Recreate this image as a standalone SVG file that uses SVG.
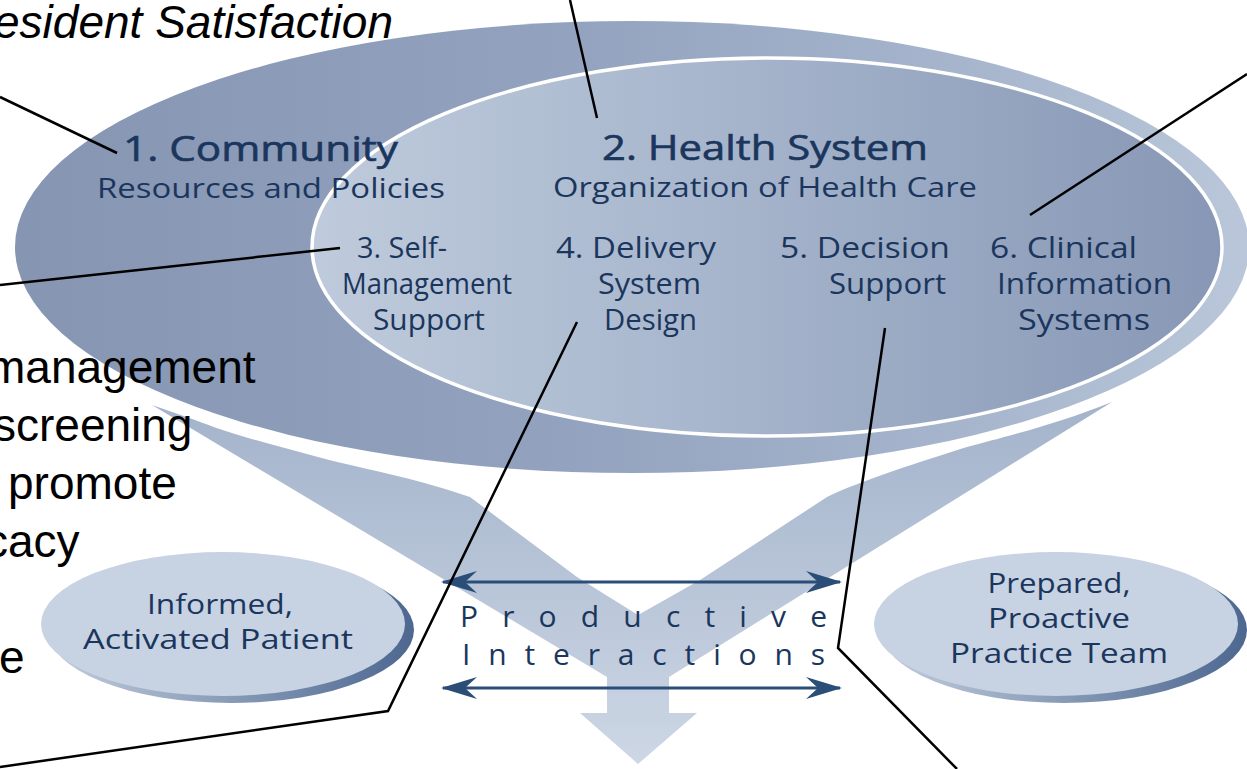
<svg xmlns="http://www.w3.org/2000/svg" width="1247" height="769" viewBox="0 0 1247 769">
  <defs>
    <style>
      .lbl { font-family: "Open Sans", "Noto Sans", "DejaVu Sans", sans-serif; fill: #1b365d; }
      .hd { stroke: #1b365d; stroke-width: 0.6; }
      .slide { font-family: "Liberation Sans", Arial, sans-serif; fill: #000; font-size: 46px; }
      .call { stroke: #000; stroke-width: 2.5; fill: none; stroke-linejoin: miter; }
      .pi { stroke: #2b4e78; stroke-width: 3; fill: none; marker-start: url(#barb); marker-end: url(#barb); }
      .oval { fill: #c7d2e2; }
    </style>
    <linearGradient id="gOuter" x1="0" y1="0" x2="1" y2="0">
      <stop offset="0" stop-color="#8595b2"/>
      <stop offset="0.45" stop-color="#93a3bf"/>
      <stop offset="0.78" stop-color="#a7b6cd"/>
      <stop offset="1" stop-color="#bac7da"/>
    </linearGradient>
    <linearGradient id="gInner" x1="0" y1="0" x2="1" y2="0">
      <stop offset="0" stop-color="#bfcbdc"/>
      <stop offset="0.4" stop-color="#a9b8ce"/>
      <stop offset="1" stop-color="#8797b5"/>
    </linearGradient>
    <linearGradient id="gFunnel" gradientUnits="userSpaceOnUse" x1="0" y1="400" x2="0" y2="765">
      <stop offset="0" stop-color="#a3b3cb"/>
      <stop offset="1" stop-color="#cdd7e5"/>
    </linearGradient>
    <linearGradient id="gShadow" x1="0" y1="0" x2="1" y2="0">
      <stop offset="0" stop-color="#c3cede"/>
      <stop offset="0.55" stop-color="#8195b3"/>
      <stop offset="1" stop-color="#4d6790"/>
    </linearGradient>
    <marker id="barb" viewBox="-36 -12 36 24" refX="-2" refY="0" markerWidth="36" markerHeight="24" markerUnits="userSpaceOnUse" orient="auto-start-reverse">
      <path d="M0,0 L-36,-11 L-24,0 L-36,11 Z" fill="#2b4e78"/>
    </marker>
  </defs>

  <!-- converging arms and downward arrow -->
  <g id="funnel">
    <path fill="url(#gFunnel)" d="M152,405 L607,677 L607,713 L580,713 L638,764 L697,713 L669,713 L669,677 L1112,402 C1060,423 1005,437 967,447 C920,462 862,480 827,497 L700,580 L638,615 L577,577 L470,497 C420,480 380,472 333,461 C280,447 230,434 195,420 Z"/>
  </g>

  <!-- 1. Community (outer field) -->
  <g id="community">
    <ellipse cx="632" cy="247" rx="617" ry="226" fill="url(#gOuter)"/>
  </g>

  <!-- 2. Health System (inner field) -->
  <g id="health-system">
    <ellipse cx="767" cy="247" rx="455" ry="189" fill="url(#gInner)" stroke="#ffffff" stroke-width="3.5"/>
    <text class="lbl hd" x="602" y="160" font-size="34" textLength="326" lengthAdjust="spacingAndGlyphs">2. Health System</text>
    <text class="lbl" x="553" y="197" font-size="28" textLength="424" lengthAdjust="spacingAndGlyphs">Organization of Health Care</text>
  </g>

  <g id="community-label">
    <text class="lbl hd" x="123" y="161" font-size="34" textLength="275" lengthAdjust="spacingAndGlyphs">1. Community</text>
    <text class="lbl" x="97" y="198" font-size="28" textLength="348" lengthAdjust="spacingAndGlyphs">Resources and Policies</text>
  </g>

  <g id="self-management">
    <text class="lbl" x="357" y="258" font-size="29" textLength="90" lengthAdjust="spacingAndGlyphs">3. Self-</text>
    <text class="lbl" x="342" y="294" font-size="29" textLength="170" lengthAdjust="spacingAndGlyphs">Management</text>
    <text class="lbl" x="373" y="330" font-size="29" textLength="112" lengthAdjust="spacingAndGlyphs">Support</text>
  </g>

  <g id="delivery-system">
    <text class="lbl" x="556" y="258" font-size="29" textLength="160" lengthAdjust="spacingAndGlyphs">4. Delivery</text>
    <text class="lbl" x="598" y="294" font-size="29" textLength="103" lengthAdjust="spacingAndGlyphs">System</text>
    <text class="lbl" x="604" y="330" font-size="29" textLength="93" lengthAdjust="spacingAndGlyphs">Design</text>
  </g>

  <g id="decision-support">
    <text class="lbl" x="780" y="258" font-size="29" textLength="170" lengthAdjust="spacingAndGlyphs">5. Decision</text>
    <text class="lbl" x="829" y="294" font-size="29" textLength="117" lengthAdjust="spacingAndGlyphs">Support</text>
  </g>

  <g id="clinical-info">
    <text class="lbl" x="990" y="258" font-size="29" textLength="147" lengthAdjust="spacingAndGlyphs">6. Clinical</text>
    <text class="lbl" x="997" y="294" font-size="29" textLength="175" lengthAdjust="spacingAndGlyphs">Information</text>
    <text class="lbl" x="1018" y="330" font-size="29" textLength="132" lengthAdjust="spacingAndGlyphs">Systems</text>
  </g>

  <!-- Informed, Activated Patient -->
  <g id="patient">
    <ellipse cx="231" cy="630" rx="183" ry="73" fill="url(#gShadow)"/>
    <ellipse class="oval" cx="223" cy="624" rx="182" ry="72"/>
    <text class="lbl" x="220" y="614" font-size="28" text-anchor="middle" textLength="146" lengthAdjust="spacingAndGlyphs">Informed,</text>
    <text class="lbl" x="218" y="649" font-size="28" text-anchor="middle" textLength="270" lengthAdjust="spacingAndGlyphs">Activated Patient</text>
  </g>

  <!-- Prepared, Proactive Practice Team -->
  <g id="practice-team">
    <ellipse cx="1064" cy="630" rx="183" ry="73" fill="url(#gShadow)"/>
    <ellipse class="oval" cx="1056" cy="624" rx="182" ry="72"/>
    <text class="lbl" x="1059" y="593" font-size="28" text-anchor="middle" textLength="143" lengthAdjust="spacingAndGlyphs">Prepared,</text>
    <text class="lbl" x="1059" y="628" font-size="28" text-anchor="middle" textLength="142" lengthAdjust="spacingAndGlyphs">Proactive</text>
    <text class="lbl" x="1059" y="663" font-size="28" text-anchor="middle" textLength="218" lengthAdjust="spacingAndGlyphs">Practice Team</text>
  </g>

  <!-- Productive Interactions -->
  <g id="interactions">
    <line class="pi" x1="443" y1="582" x2="840" y2="582"/>
    <line class="pi" x1="443" y1="688" x2="840" y2="688"/>
    <text class="lbl" x="460" y="627" font-size="30" textLength="367">Productive</text>
    <text class="lbl" x="462" y="665" font-size="30" textLength="363">Interactions</text>
  </g>

  <!-- slide text -->
  <g id="notes">
    <text class="slide" x="-6" y="38" font-size="44" font-style="italic" textLength="399">esident Satisfaction</text>
    <text class="slide" x="-13" y="383">management</text>
    <text class="slide" x="-7" y="441">screening</text>
    <text class="slide" x="8" y="499">promote</text>
    <text class="slide" x="-15" y="557">cacy</text>
    <text class="slide" x="-1" y="673">e</text>
  </g>

  <!-- callout lines -->
  <g id="connectors">
    <line class="call" x1="0" y1="97" x2="117" y2="153"/>
    <line class="call" x1="570" y1="0" x2="597" y2="118"/>
    <line class="call" x1="1247" y1="74" x2="1030" y2="215"/>
    <line class="call" x1="0" y1="285" x2="340" y2="248"/>
    <polyline class="call" points="0,767 388,711 577,322"/>
    <polyline class="call" points="885,328 838,648 957,769"/>
  </g>
</svg>
